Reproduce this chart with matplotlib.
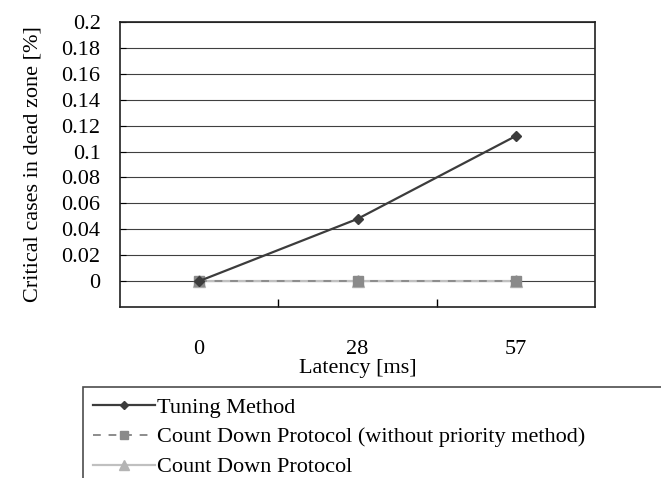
import matplotlib
matplotlib.use("Agg")
import matplotlib.pyplot as plt
from matplotlib.ticker import FixedLocator

# values
latency = ["0", "28", "57"]
tuning_method = [0.0, 0.048, 0.112]
count_down_no_priority = [0.0, 0.0, 0.0]
count_down = [0.0, 0.0, 0.0]
y_ticks = [0, 0.02, 0.04, 0.06, 0.08, 0.1, 0.12, 0.14, 0.16, 0.18, 0.2]
y_labels = ["0", "0.02", "0.04", "0.06", "0.08", "0.1", "0.12",
            "0.14", "0.16", "0.18", "0.2"]

plt.rcParams["font.family"] = ["Liberation Serif", "DejaVu Serif"]
fs = 16

fig = plt.figure(figsize=(6.61, 4.78), dpi=100)
ax = fig.add_axes([120 / 661, 1 - 307 / 478, 475 / 661, 285 / 478])

x = list(range(len(latency)))
ax.plot(x, tuning_method, color="#3c3c3c", lw=1.6, marker="D", ms=5,
        label="Tuning Method", zorder=4)
ax.plot(x, count_down_no_priority, color="#8c8c8c", lw=1.4, ls=(0, (4, 4)),
        marker="s", ms=7, mfc="#8a8a8a", mec="#8a8a8a",
        label="Count Down Protocol (without priority method)", zorder=3)
ax.plot(x, count_down, color="#c0c0c0", lw=1.6, marker="^", ms=8,
        mfc="#b4b4b4", mec="#b4b4b4", label="Count Down Protocol", zorder=2)

ax.set_xlim(-0.5, 2.5)
ax.set_ylim(-0.02, 0.2)
ax.set_yticks(y_ticks)
ax.set_yticklabels(y_labels, fontsize=fs)
ax.grid(axis="y", color="#404040", lw=0.8)
ax.tick_params(axis="y", direction="in", length=4, pad=14)

ax.set_xticks(x)
ax.set_xticklabels(latency, fontsize=fs)
ax.tick_params(axis="x", which="major", length=0, pad=24)
ax.xaxis.set_minor_locator(FixedLocator([0.5, 1.5]))
ax.tick_params(axis="x", which="minor", direction="in", length=6, width=1)

for s in ax.spines.values():
    s.set_color("#202020")
    s.set_linewidth(1.2)

ax.set_xlabel("Latency [ms]", fontsize=fs, labelpad=0)
ax.set_ylabel("Critical cases in dead zone [%]", fontsize=fs, labelpad=14)

leg = fig.legend(loc="upper left", bbox_to_anchor=(83 / 661, 0, 1, 1 - 387 / 478),
                 mode="expand", fontsize=fs, frameon=True, fancybox=False,
                 handlelength=2.8, handletextpad=0.1, borderpad=0.45,
                 labelspacing=0.42, borderaxespad=0, markerscale=0.85)
leg.get_frame().set_edgecolor("#202020")
leg.get_frame().set_linewidth(1.2)

fig.savefig("out.png", dpi=100)
